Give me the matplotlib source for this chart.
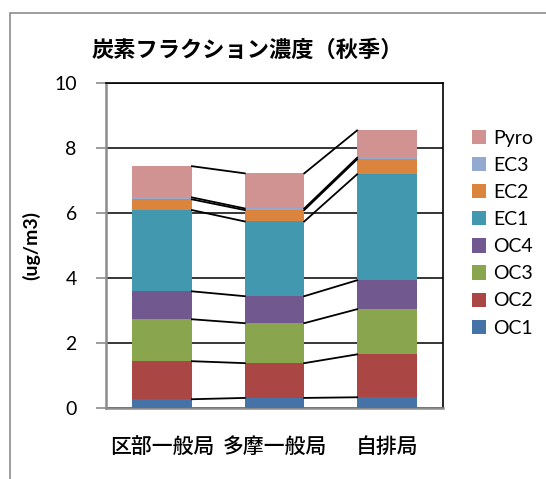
import numpy as np
import matplotlib.pyplot as plt
from matplotlib.patches import Rectangle

plt.rcParams['font.family'] = ['Lato', 'Noto Sans CJK JP', 'DejaVu Sans']

# Sites and carbon fractions (ug/m3)
sites = ['区部一般局', '多摩一般局', '自排局']
fractions = ['OC1', 'OC2', 'OC3', 'OC4', 'EC1', 'EC2', 'EC3', 'Pyro']
oc1 = [0.27, 0.31, 0.33]
oc2 = [1.17, 1.07, 1.32]
oc3 = [1.29, 1.23, 1.39]
oc4 = [0.86, 0.83, 0.89]
ec1 = [2.50, 2.30, 3.26]
ec2 = [0.33, 0.35, 0.46]
ec3 = [0.06, 0.05, 0.05]
pyro = [0.96, 1.08, 0.84]
colors = ['#4572A7', '#AA4643', '#89A54E', '#71588F',
          '#4198AF', '#DB843D', '#93A9CF', '#D19392']

W, H = 546, 479
fig = plt.figure(figsize=(W / 100, H / 100), dpi=100)

# chart frame (extends past the image edges)
fig.patches.append(Rectangle((10 / W, -0.1), 1.2, (H - 13) / H + 0.1,
                             transform=fig.transFigure, fill=False,
                             edgecolor='#8c8c8c', lw=1.2))

ax = fig.add_axes([106 / W, (H - 408) / H, 337 / W, 325 / H])

series = [oc1, oc2, oc3, oc4, ec1, ec2, ec3, pyro]
x = np.arange(len(sites))
width = 0.53
bottom = np.zeros(len(sites))
for name, vals, c in zip(fractions, series, colors):
    vals = np.array(vals)
    ax.bar(x, vals, width, bottom=bottom, color=c, label=name, zorder=3)
    top = bottom + vals
    # series lines between neighbouring bars
    for i in range(len(sites) - 1):
        ax.plot([x[i] + width / 2, x[i + 1] - width / 2], [top[i], top[i + 1]],
                color='black', lw=1.3, zorder=4)
    bottom = top

ax.set_xlim(-0.5, 2.5)
ax.set_ylim(0, 10)
ax.set_yticks(np.arange(0, 11, 2))
ax.yaxis.grid(True, color='black', lw=1.1, zorder=0)
ax.set_xticks(x)
ax.set_xticklabels(sites, fontsize=15, fontweight='medium', family=['Noto Sans CJK JP'])
ax.tick_params(axis='x', length=0, pad=20)
ax.tick_params(axis='y', length=7, color='#8c8c8c', width=1.2, labelsize=14, pad=14)

for side in ['top', 'right']:
    ax.spines[side].set_color('black')
    ax.spines[side].set_linewidth(1.2)
for side in ['left', 'bottom']:
    ax.spines[side].set_color('#8c8c8c')
    ax.spines[side].set_linewidth(1.8)

ax.set_ylabel('(ug/m3)', fontsize=14, fontweight='bold', labelpad=10)
fig.text(247 / W, 1 - 50 / H, '炭素フラクション濃度（秋季）', ha='center', va='center',
         fontsize=16, fontweight='bold', family=['Noto Sans CJK JP'])

handles, labels = ax.get_legend_handles_labels()
fig.legend(handles[::-1], labels[::-1], loc='upper left',
           bbox_to_anchor=(464 / W, 1 - 122 / H), frameon=False,
           fontsize=14, handlelength=0.75, handleheight=0.75,
           handletextpad=0.35, labelspacing=0.52, borderaxespad=0)

fig.savefig('out.png', dpi=100)
